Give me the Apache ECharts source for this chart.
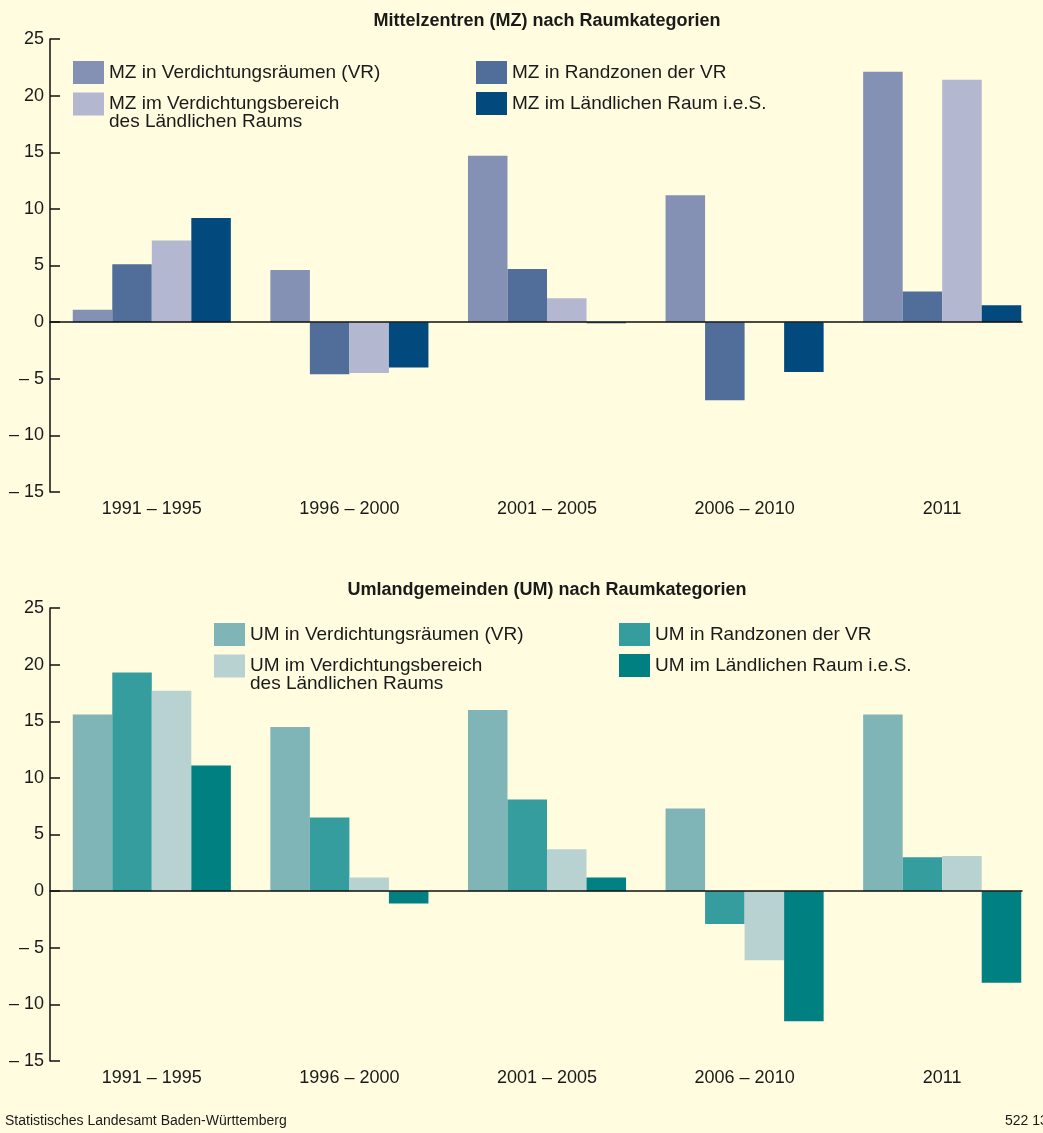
<!DOCTYPE html>
<html>
<head>
<meta charset="utf-8">
<script src="https://cdn.jsdelivr.net/npm/echarts@6/dist/echarts.min.js"></script>
<style>
  html, body { margin: 0; padding: 0; background: #fffcdf; }
  #chart { width: 1043px; height: 1133px; }
</style>
</head>
<body>
<div id="chart"></div>
<script>
// Kategorien (Zeiträume)
var periods = ['1991 – 1995', '1996 – 2000', '2001 – 2005', '2006 – 2010', '2011'];

// Mittelzentren
var mzNames = [
    'MZ in Verdichtungsräumen (VR)',
    'MZ in Randzonen der VR',
    'MZ im Verdichtungsbereich des Ländlichen Raums',
    'MZ im Ländlichen Raum i.e.S.'
];
var mzVR = [1.1, 4.6, 14.7, 11.2, 22.1];
var mzRand = [5.1, -4.6, 4.7, -6.9, 2.7];
var mzVerdLR = [7.2, -4.5, 2.1, 0, 21.4];
var mzLR = [9.2, -4.0, -0.1, -4.4, 1.5];

// Umlandgemeinden
var umNames = [
    'UM in Verdichtungsräumen (VR)',
    'UM in Randzonen der VR',
    'UM im Verdichtungsbereich des Ländlichen Raums',
    'UM im Ländlichen Raum i.e.S.'
];
var umVR = [15.6, 14.5, 16.0, 7.3, 15.6];
var umRand = [19.3, 6.5, 8.1, -2.9, 3.0];
var umVerdLR = [17.7, 1.2, 3.7, -6.1, 3.1];
var umLR = [11.1, -1.1, 1.2, -11.5, -8.1];

var mzColors = ['#8490b4', '#516e9a', '#b3b8d0', '#024a7e'];
var umColors = ['#7fb5b6', '#369d9f', '#b8d2d2', '#008080'];

var FONT = "'Liberation Sans', Arial, sans-serif";
var INK = '#1a1a1a';
var Y_MIN = -15, Y_MAX = 25, Y_STEP = 5;

function yLabel(v) {
    return v < 0 ? '– ' + Math.abs(v) : String(v);
}

// the two-line entry gets an empty first line so its first real line sits level with the swatch
function legendFormatter(name) {
    if (name.indexOf('Verdichtungsbereich') >= 0) {
        return '\n' + name.replace('Verdichtungsbereich ', 'Verdichtungsbereich\n');
    }
    return name;
}

function makeLegend(names, left, top, gap) {
    return {
        orient: 'vertical',
        left: left,
        top: top,
        padding: 0,
        itemGap: gap,
        itemWidth: 31,
        itemHeight: 23,
        icon: 'rect',
        selectedMode: false,
        formatter: legendFormatter,
        textStyle: { fontFamily: FONT, fontSize: 19, color: INK, lineHeight: 18 },
        data: names
    };
}

function makeSeries(names, values, colors, xIdx, yIdx) {
    return names.map(function(n, i) {
        return {
            name: n,
            type: 'bar',
            xAxisIndex: xIdx,
            yAxisIndex: yIdx,
            barGap: 0,
            barCategoryGap: '20%',
            itemStyle: { color: colors[i] },
            data: values[i]
        };
    });
}

function labelAxis(gridIndex) {
    return {
        type: 'category',
        gridIndex: gridIndex,
        data: periods,
        position: 'bottom',
        axisLine: { show: false, onZero: false },
        axisTick: { show: false },
        axisLabel: { fontFamily: FONT, fontSize: 18, color: INK, margin: 8 }
    };
}

// zero line lives in its own overlay grid so it stops where the last bar ends
function zeroAxis(gridIndex) {
    return {
        type: 'category',
        gridIndex: gridIndex,
        data: periods,
        axisLine: { show: true, onZero: true, lineStyle: { color: '#111', width: 1.5 } },
        axisTick: { show: false },
        axisLabel: { show: false },
        z: 5
    };
}

function valueAxis(gridIndex) {
    return {
        type: 'value',
        gridIndex: gridIndex,
        min: Y_MIN,
        max: Y_MAX,
        interval: Y_STEP,
        offset: 3,
        axisLine: { show: true, lineStyle: { color: '#111', width: 1.5 } },
        axisTick: { show: true, inside: true, length: 10, lineStyle: { color: '#111', width: 1.5 } },
        axisLabel: { fontFamily: FONT, fontSize: 18, color: INK, margin: 6, formatter: yLabel },
        splitLine: { show: false }
    };
}

function hiddenAxis(gridIndex) {
    return {
        type: 'value',
        gridIndex: gridIndex,
        min: Y_MIN,
        max: Y_MAX,
        interval: Y_STEP,
        axisLine: { show: false },
        axisTick: { show: false },
        axisLabel: { show: false },
        splitLine: { show: false }
    };
}

var chart = echarts.init(document.getElementById('chart'));

var option = {
    backgroundColor: '#fffcdf',
    animation: false,
    title: [
        {
            text: 'Mittelzentren (MZ) nach Raumkategorien',
            left: 542, top: 7, textAlign: 'center',
            textStyle: { fontFamily: FONT, fontSize: 18, fontWeight: 'bold', color: INK }
        },
        {
            text: 'Umlandgemeinden (UM) nach Raumkategorien',
            left: 542, top: 576, textAlign: 'center',
            textStyle: { fontFamily: FONT, fontSize: 18, fontWeight: 'bold', color: INK }
        }
    ],
    legend: [
        makeLegend([mzNames[0], mzNames[2]], 73, 61, -7.5),
        makeLegend([mzNames[1], mzNames[3]], 476, 61, 8),
        makeLegend([umNames[0], umNames[2]], 214, 623, -7.5),
        makeLegend([umNames[1], umNames[3]], 619, 623, 8)
    ],
    grid: [
        { left: 53, right: 2, top: 39, height: 453 },
        { left: 53, right: 2, top: 608, height: 453 },
        { left: 50, right: 21, top: 39, height: 453 },
        { left: 50, right: 21, top: 608, height: 453 }
    ],
    xAxis: [labelAxis(0), labelAxis(1), zeroAxis(2), zeroAxis(3)],
    yAxis: [valueAxis(0), valueAxis(1), hiddenAxis(2), hiddenAxis(3)],
    series: makeSeries(mzNames, [mzVR, mzRand, mzVerdLR, mzLR], mzColors, 0, 0)
        .concat(makeSeries(umNames, [umVR, umRand, umVerdLR, umLR], umColors, 1, 1)),
    graphic: [
        {
            type: 'text', left: 5, top: 1114,
            style: { text: 'Statistisches Landesamt Baden-Württemberg', font: '14px ' + FONT, fill: INK }
        },
        {
            type: 'text', left: 1005, top: 1114,
            style: { text: '522 13', font: '14px ' + FONT, fill: INK }
        }
    ]
};

chart.setOption(option);
</script>
</body>
</html>
